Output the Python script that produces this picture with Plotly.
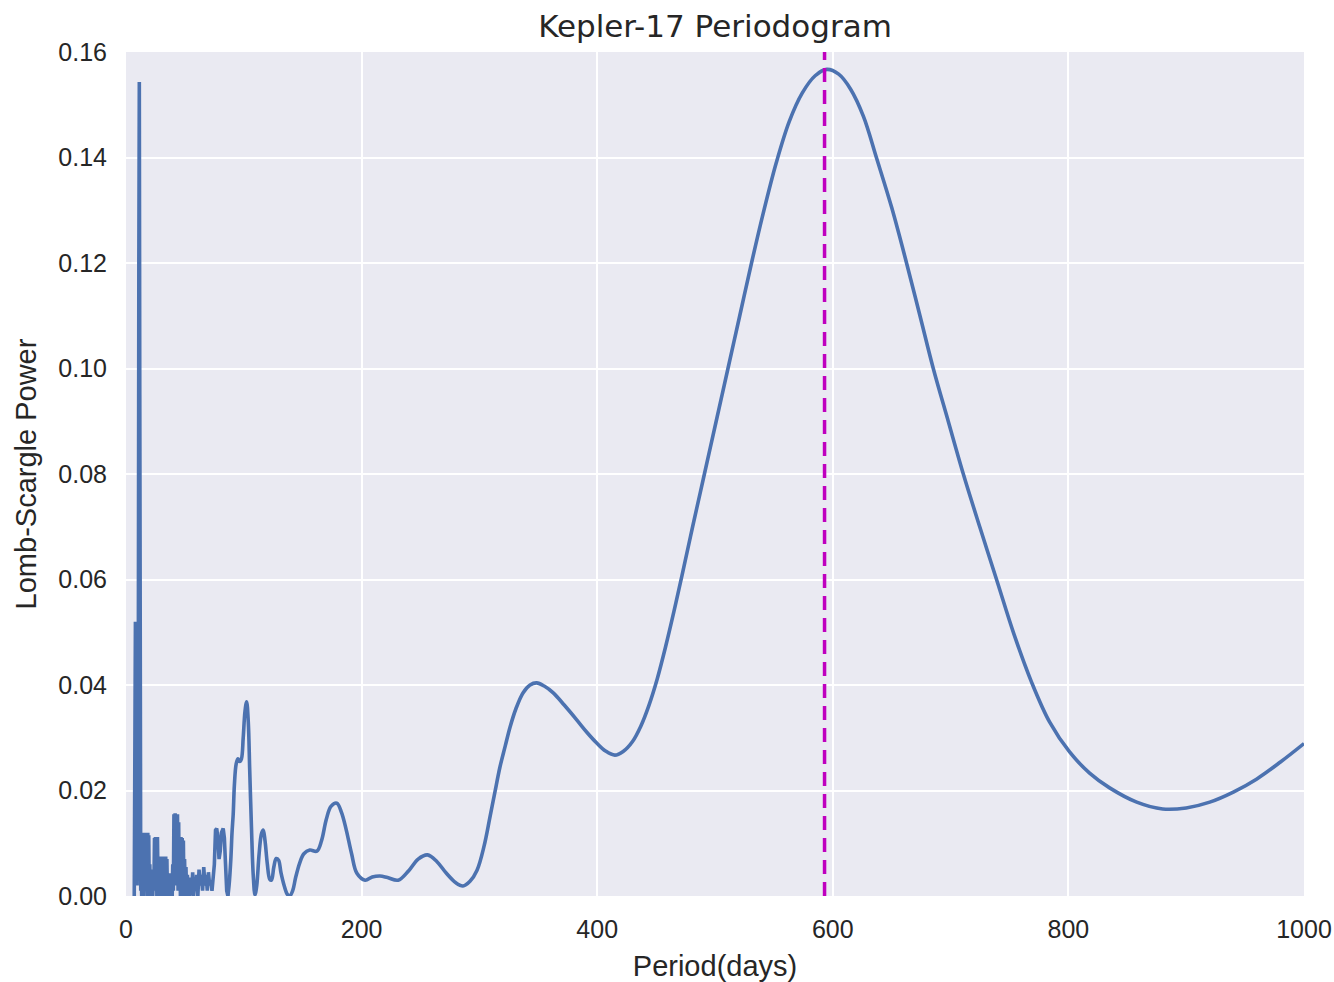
import plotly.graph_objects as go

# ---------------- data ----------------
noise_periods = [
    7.0, 7.3, 7.6, 8.0, 8.4, 8.9, 9.4, 9.9, 10.4, 10.9,
    11.3, 11.7, 12.1, 12.5, 12.9, 13.3, 13.7, 14.1, 14.5, 14.9,
    15.3, 15.7, 16.1, 16.5, 16.9, 17.3, 17.7, 18.1, 18.5, 18.9,
    19.3, 19.7, 20.2, 20.7, 21.2, 21.7, 22.2, 22.7, 23.2, 23.7,
    24.2, 24.6, 25.0, 25.4, 25.8, 26.2, 26.7, 27.2, 27.7, 28.2,
    28.7, 29.2, 29.7, 30.2, 30.7, 31.2, 31.7, 32.2, 32.7, 33.2,
    33.7, 34.2, 34.7, 35.2, 35.7, 36.2, 36.7, 37.2, 37.7, 38.2,
    38.7, 39.2, 39.7, 40.2, 40.7, 41.2, 41.7, 42.2, 42.7, 43.2,
    43.7, 44.2, 44.7, 45.2, 45.7, 46.2, 46.7, 47.2, 47.7, 48.2,
    48.7, 49.2, 49.7, 50.3, 50.9, 51.5, 52.1, 52.8, 53.5, 54.2,
    55.0, 55.8, 56.6, 57.4, 58.2, 59.0, 60.0, 61.0, 62.0, 63.0,
    64.0, 65.0, 66.0, 67.0, 68.0, 69.0, 70.0, 71.0, 72.0, 73.0,
    74.0, 75.0, 76.0, 77.0, 78.0, 79.0, 80.0, 81.0, 82.5, 83.5,
    84.5, 85.5, 86.5,
]
noise_powers = [
    0.000, 0.022, 0.003, 0.052, 0.004, 0.012, 0.002, 0.010, 0.030, 0.120,
    0.1543, 0.095, 0.012, 0.001, 0.006, 0.000, 0.012, 0.002, 0.011, 0.000,
    0.012, 0.003, 0.009, 0.001, 0.012, 0.002, 0.011, 0.000, 0.012, 0.004,
    0.0115, 0.001, 0.006, 0.000, 0.004, 0.001, 0.005, 0.000, 0.003, 0.002,
    0.011, 0.001, 0.0112, 0.003, 0.011, 0.000, 0.0112, 0.002, 0.006, 0.000,
    0.0075, 0.002, 0.007, 0.000, 0.0075, 0.001, 0.004, 0.000, 0.007, 0.002,
    0.0075, 0.001, 0.007, 0.000, 0.003, 0.001, 0.004, 0.000, 0.0043, 0.001,
    0.004, 0.000, 0.006, 0.001, 0.0155, 0.004, 0.0157, 0.002, 0.015, 0.005,
    0.0155, 0.001, 0.014, 0.003, 0.010, 0.000, 0.0112, 0.002, 0.011, 0.001,
    0.0105, 0.000, 0.007, 0.001, 0.0055, 0.000, 0.004, 0.001, 0.003, 0.000,
    0.0035, 0.001, 0.0045, 0.000, 0.003, 0.001, 0.004, 0.000, 0.005, 0.002,
    0.004, 0.001, 0.0055, 0.002, 0.004, 0.001, 0.0045, 0.002, 0.003, 0.001,
    0.004, 0.006, 0.0125, 0.0128, 0.011, 0.007, 0.0085, 0.012, 0.0128, 0.011,
    0.006, 0.001, 0.000,
]

smooth_periods = [
    86.5, 87.5, 89, 90, 91, 92, 93.5, 95, 96.5, 98,
    99.5, 101, 102.4, 103.8, 105, 106.5, 108, 109.5, 111, 113,
    115, 116.5, 118, 120, 122, 123.5, 125.5, 127.5, 129.5, 131.5,
    134, 137, 139, 141.5, 144, 147.5, 151, 156, 162, 166,
    170, 174, 179, 183, 187, 191.5, 196, 203, 209, 215.6,
    222, 231, 240, 248, 256, 264, 272, 280, 286, 292,
    298, 304, 309, 313, 317.5, 322, 326, 331, 337, 343,
    348.6, 355, 362.7, 372, 382.6, 391, 399.6, 407, 415, 422,
    430, 437, 444, 451, 458, 465, 472, 481, 491, 501,
    511, 521, 531, 541, 552, 563, 574, 585, 595, 605,
    615, 626, 637, 650, 662.6, 674, 685.3, 698, 710.8, 725,
    739, 754, 768.8, 784, 801, 818, 835, 858, 880, 900,
    920, 940, 960, 980, 1000,
]
smooth_powers = [
    0.000, 0.002, 0.007, 0.012, 0.0155, 0.021, 0.025, 0.026, 0.0255, 0.026,
    0.030, 0.035, 0.0368, 0.033, 0.024, 0.013, 0.004, 0.0002, 0.002, 0.008,
    0.0118, 0.0125, 0.0105, 0.006, 0.0032, 0.003, 0.0055, 0.0071, 0.0068, 0.0045,
    0.0022, 0.0003, 0.000, 0.001, 0.0035, 0.0063, 0.008, 0.0087, 0.0085, 0.0105,
    0.0145, 0.017, 0.0176, 0.0158, 0.0125, 0.008, 0.0043, 0.003, 0.0036, 0.0038,
    0.0035, 0.003, 0.0048, 0.007, 0.0078, 0.0065, 0.0043, 0.0025, 0.0019, 0.0028,
    0.0049, 0.0095, 0.015, 0.0195, 0.0245, 0.0285, 0.032, 0.0355, 0.0385, 0.040,
    0.0404, 0.0398, 0.0385, 0.0362, 0.0334, 0.0311, 0.029, 0.0275, 0.0267, 0.0274,
    0.0293, 0.0322, 0.0362, 0.0412, 0.0472, 0.0538, 0.0608, 0.070, 0.080, 0.090,
    0.100, 0.110, 0.120, 0.1295, 0.139, 0.1468, 0.1522, 0.1555, 0.1567, 0.1558,
    0.1530, 0.1478, 0.140, 0.1305, 0.120, 0.110, 0.100, 0.090, 0.080, 0.0698,
    0.060, 0.0495, 0.0405, 0.0330, 0.0273, 0.0233, 0.0205, 0.0178, 0.0165, 0.0167,
    0.0178, 0.0197, 0.0222, 0.0254, 0.0289,
]

best_period = 593
x_ticks = [0, 200, 400, 600, 800, 1000]
y_ticks = [0.00, 0.02, 0.04, 0.06, 0.08, 0.10, 0.12, 0.14, 0.16]

# ---------------- figure ----------------
LINE = "#4C72B0"
TXT = "#262626"

fig = go.Figure()
fig.add_trace(go.Scatter(
    x=noise_periods, y=noise_powers, mode="lines",
    line=dict(color=LINE, width=3.6), showlegend=False, hoverinfo="x+y",
))
fig.add_trace(go.Scatter(
    x=smooth_periods, y=smooth_powers, mode="lines",
    line=dict(color=LINE, width=3.6, shape="spline", smoothing=1.0),
    showlegend=False, hoverinfo="x+y",
))

fig.add_shape(
    type="line", xref="x", yref="paper",
    x0=best_period, x1=best_period, y0=0, y1=1,
    line=dict(color="#BF00BF", width=3.5, dash="14px,8px"),
)

fig.update_layout(
    width=1334, height=982,
    margin=dict(l=126, r=30, t=52, b=86),
    paper_bgcolor="white",
    plot_bgcolor="#EAEAF2",
    showlegend=False,
    title=dict(
        text="Kepler-17 Periodogram",
        font=dict(family="DejaVu Sans", size=31, color=TXT),
        x=0.5, xref="paper", xanchor="center",
        y=1 - 26 / 982, yref="container", yanchor="middle",
    ),
    font=dict(family="Liberation Sans", color=TXT),
)

fig.update_xaxes(
    range=[0, 1000], tickvals=x_ticks, ticktext=[str(v) for v in x_ticks],
    showgrid=True, gridcolor="white", gridwidth=2, zeroline=False,
    showline=False, ticks="outside", ticklen=11, tickcolor="rgba(0,0,0,0)",
    tickfont=dict(family="Liberation Sans", size=25, color=TXT),
    title=dict(text="Period(days)", standoff=15,
               font=dict(family="Liberation Sans", size=29, color=TXT)),
    automargin=False,
)
fig.update_yaxes(
    range=[0, 0.16], tickvals=y_ticks, ticktext=[f"{v:.2f}" for v in y_ticks],
    showgrid=True, gridcolor="white", gridwidth=2, zeroline=False,
    showline=False, ticks="outside", ticklen=13, tickcolor="rgba(0,0,0,0)",
    tickfont=dict(family="Liberation Sans", size=25, color=TXT),
    title=dict(text="Lomb-Scargle Power", standoff=13,
               font=dict(family="Liberation Sans", size=29, color=TXT)),
    automargin=False,
)

fig.write_html("out.html")
